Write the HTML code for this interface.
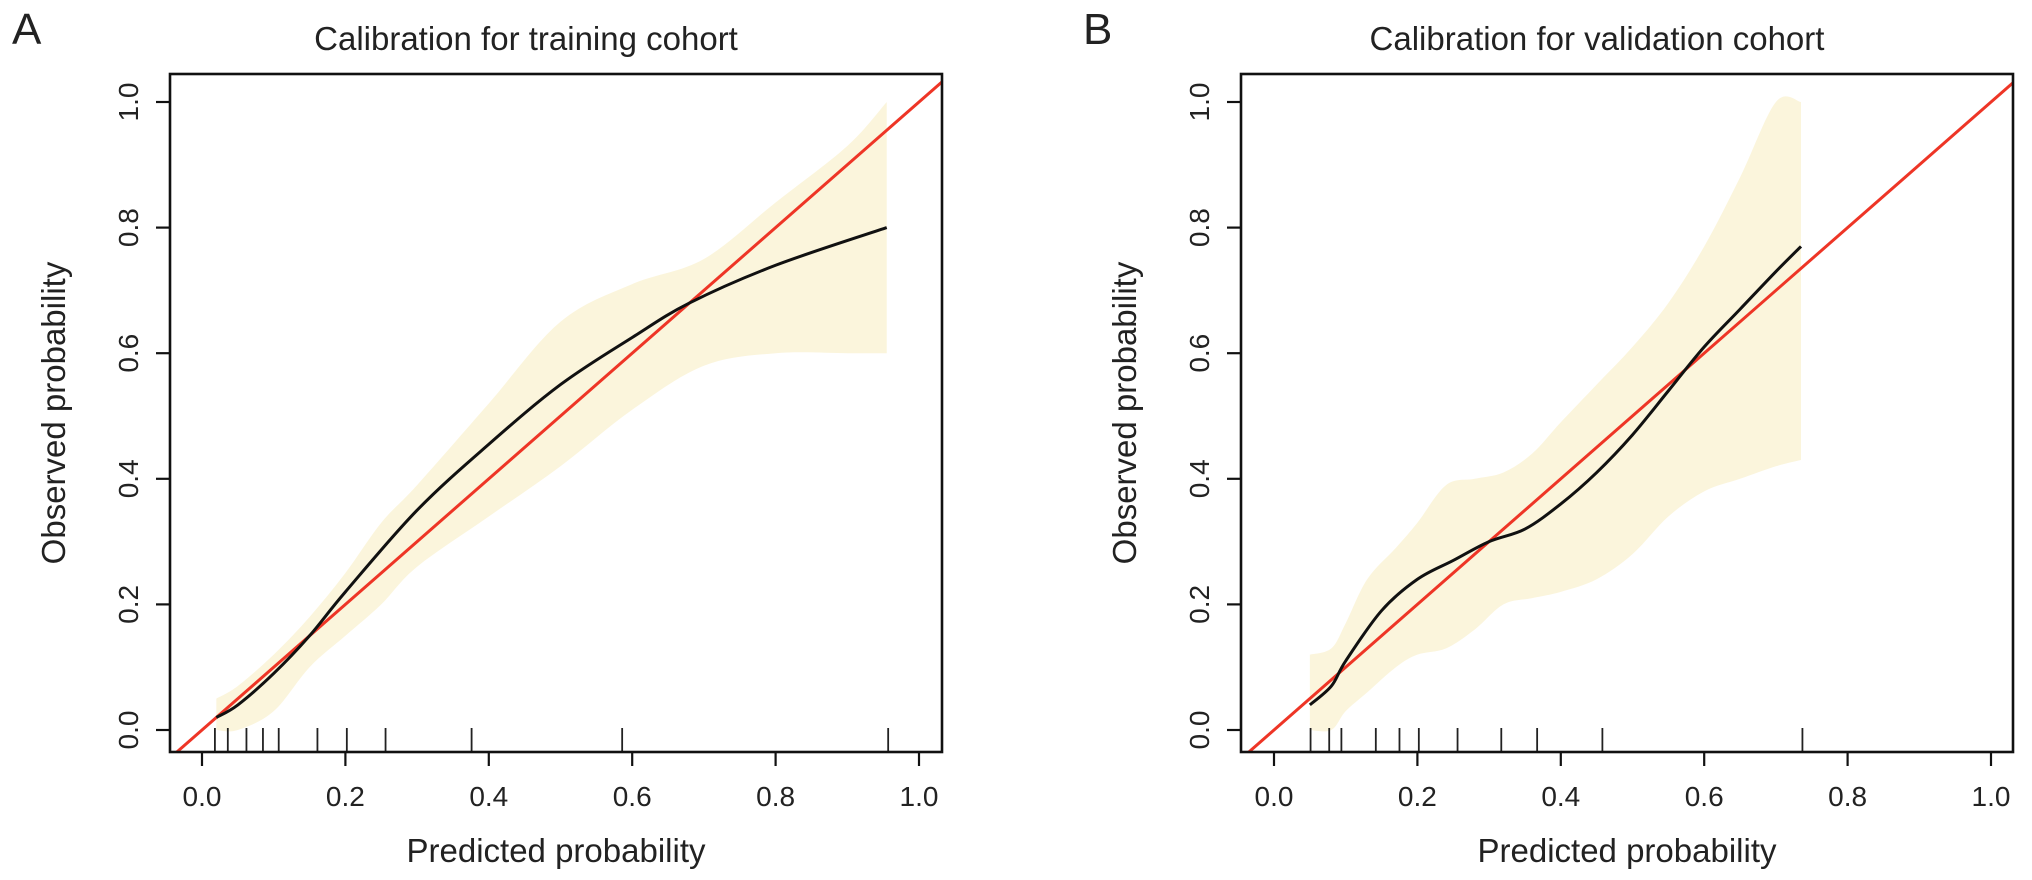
<!DOCTYPE html>
<html><head><meta charset="utf-8"><style>
html,body{margin:0;padding:0;background:#fff;}
svg{display:block;font-family:"Liberation Sans",Arial,sans-serif;}
</style></head><body>
<svg id="chart" width="2032" height="880" viewBox="0 0 2032 880" xmlns="http://www.w3.org/2000/svg"></svg>
<script>
const ticks = [0, 0.2, 0.4, 0.6, 0.8, 1.0];
const tickLabels = ["0.0","0.2","0.4","0.6","0.8","1.0"];
const panelLetters = ["A","B"];
const panelTitles = ["Calibration for training cohort","Calibration for validation cohort"];
const curveAX = [0.02,0.05,0.1,0.15,0.2,0.3,0.4,0.5,0.6,0.68,0.8,0.955];
const curveAY = [0.02,0.04,0.09,0.15,0.22,0.35,0.455,0.55,0.625,0.68,0.74,0.80];
const bandAX = [0.02,0.05,0.1,0.15,0.2,0.25,0.3,0.4,0.5,0.6,0.7,0.8,0.9,0.955];
const bandALo = [0,0,0.03,0.1,0.15,0.2,0.26,0.34,0.42,0.51,0.58,0.6,0.6,0.6];
const bandAHi = [0.05,0.07,0.12,0.18,0.25,0.33,0.39,0.52,0.65,0.71,0.75,0.84,0.93,1.0];
const rugA = [0.018,0.036,0.062,0.085,0.107,0.161,0.202,0.256,0.376,0.586,0.957];
const curveBX = [0.05,0.08,0.1,0.15,0.2,0.25,0.3,0.35,0.4,0.45,0.5,0.55,0.6,0.65,0.7,0.735];
const curveBY = [0.04,0.07,0.11,0.19,0.24,0.27,0.30,0.32,0.36,0.41,0.47,0.54,0.61,0.67,0.73,0.77];
const bandBX = [0.05,0.08,0.1,0.13,0.17,0.2,0.24,0.28,0.32,0.36,0.4,0.45,0.5,0.55,0.6,0.65,0.7,0.735];
const bandBLo = [0,0,0.03,0.06,0.10,0.12,0.13,0.16,0.20,0.21,0.22,0.24,0.28,0.34,0.38,0.40,0.42,0.43];
const bandBHi = [0.12,0.13,0.17,0.24,0.29,0.33,0.39,0.40,0.41,0.44,0.49,0.55,0.61,0.68,0.77,0.88,1.0,1.0];
const rugB = [0.051,0.077,0.094,0.142,0.175,0.202,0.256,0.317,0.367,0.458,0.737];

const NS="http://www.w3.org/2000/svg";
const svgEl=document.getElementById('chart');
function mk(tag,attrs,parent){const e=document.createElementNS(NS,tag);for(const k in attrs)e.setAttribute(k,attrs[k]);(parent||svgEl).appendChild(e);return e;}
function smooth(pts){let d="M"+pts[0][0]+","+pts[0][1];for(let i=0;i<pts.length-1;i++){const p0=pts[i-1]||pts[i],p1=pts[i],p2=pts[i+1],p3=pts[i+2]||p2;
const c1=[p1[0]+(p2[0]-p0[0])/6,p1[1]+(p2[1]-p0[1])/6],c2=[p2[0]-(p3[0]-p1[0])/6,p2[1]-(p3[1]-p1[1])/6];
d+=" C"+c1[0]+","+c1[1]+" "+c2[0]+","+c2[1]+" "+p2[0]+","+p2[1];}return d;}

const panels=[
 {left:170,right:942,x0:202,x1:919,cx:[curveAX,curveAY],band:[bandAX,bandALo,bandAHi],rug:rugA},
 {left:1241,right:2013,x0:1274,x1:1991,cx:[curveBX,curveBY],band:[bandBX,bandBLo,bandBHi],rug:rugB}
];
const plotTop=74,plotBottom=752,y0=730,y1=102;
panels.forEach((p,pi)=>{
 const g=mk('g',{});
 
 
 const X=v=>p.x0+(p.x1-p.x0)*v, Y=v=>y0+(y1-y0)*v;
 const clipId='clip'+pi;
 const cp=mk('clipPath',{id:clipId},g);mk('rect',{x:p.left,y:plotTop,width:p.right-p.left,height:plotBottom-plotTop},cp);
 const bx=p.band[0],lo=p.band[1],hi=p.band[2];
 const up=bx.map((x,i)=>[X(x),Y(hi[i])]);
 const dn=bx.map((x,i)=>[X(x),Y(lo[i])]).reverse();
 let d=smooth(up)+" L"+dn[0][0]+","+dn[0][1]+smooth(dn).replace(/^M[^C]*/," ")+" Z";
 const band=mk('path',{d:d,fill:'#fbf5dc',stroke:'none','clip-path':'url(#'+clipId+')'},g);
 
 
 const ideal=mk('line',{x1:p.left,y1:Y((p.left-p.x0)/(p.x1-p.x0)),x2:p.right,y2:Y((p.right-p.x0)/(p.x1-p.x0)),stroke:'#ee3526','stroke-width':3,'clip-path':'url(#'+clipId+')'},g);
 
 
 const cpts=p.cx[0].map((x,i)=>[X(x),Y(p.cx[1][i])]);
 const curve=mk('path',{d:smooth(cpts),fill:'none',stroke:'#111','stroke-width':3},g);
 
 
 p.rug.forEach(v=>{const r=mk('line',{x1:X(v),x2:X(v),y1:plotBottom,y2:plotBottom-24,stroke:'#222','stroke-width':1.8},g);
  
  });
 const box=mk('rect',{x:p.left,y:plotTop,width:p.right-p.left,height:plotBottom-plotTop,fill:'none',stroke:'#111','stroke-width':2.6},g);
 
 
 ticks.forEach((t,i)=>{
  mk('line',{x1:X(t),x2:X(t),y1:plotBottom,y2:plotBottom+14,stroke:'#111','stroke-width':2.2},g);
  const tx=mk('text',{x:X(t),y:plotBottom+54,'text-anchor':'middle','font-size':28,fill:'#222'},g);tx.textContent=tickLabels[i];
  
  
  mk('line',{x1:p.left,x2:p.left-14,y1:Y(t),y2:Y(t),stroke:'#111','stroke-width':2.2},g);
  const ty=mk('text',{x:0,y:0,transform:'translate('+(p.left-32)+','+Y(t)+') rotate(-90)','text-anchor':'middle','font-size':28,fill:'#222'},g);ty.textContent=tickLabels[i];
  
  
 });
 const mid=(p.left+p.right)/2;
 const xt=mk('text',{x:mid,y:862,'text-anchor':'middle','font-size':33,fill:'#222'},g);xt.textContent='Predicted probability';
 
 
 const yt=mk('text',{x:0,y:0,transform:'translate('+(p.left-105)+','+((plotTop+plotBottom)/2)+') rotate(-90)','text-anchor':'middle','font-size':33,fill:'#222'},g);yt.textContent='Observed probability';
 
 
 const tt=mk('text',{x:mid-30,y:50,'text-anchor':'middle','font-size':33,fill:'#222'},g);tt.textContent=panelTitles[pi];
 
 
 const lt=mk('text',{x:p.left-158,y:44,'font-size':44,fill:'#222'},g);lt.textContent=panelLetters[pi];
 
 
});
</script>
</body></html>
